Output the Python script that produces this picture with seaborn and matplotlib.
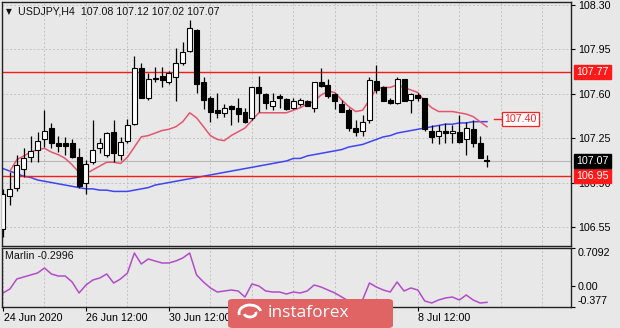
import numpy as np
import pandas as pd
import matplotlib
matplotlib.use("Agg")
import matplotlib.pyplot as plt
import matplotlib.transforms as mtransforms
from matplotlib.patches import FancyBboxPatch, Arc
import seaborn as sns

# ---------------- data ----------------
symbol = "USDJPY,H4"
opens = [106.53, 106.79, 106.86, 107.01, 107.10, 107.16, 107.24, 107.33, 107.21, 107.21,
         107.21, 107.10, 106.90, 107.06, 107.17, 107.12, 107.30, 107.12, 107.23, 107.36,
         107.80, 107.57, 107.72, 107.74, 107.69, 107.73, 107.84, 107.94, 108.10, 107.69,
         107.57, 107.47, 107.45, 107.50, 107.49, 107.46, 107.41, 107.65, 107.60, 107.50,
         107.58, 107.56, 107.49, 107.52, 107.54, 107.49, 107.69, 107.67, 107.60, 107.52,
         107.47, 107.33, 107.31, 107.39, 107.70, 107.65, 107.55, 107.53, 107.72, 107.55,
         107.59, 107.57, 107.31, 107.27, 107.31, 107.29, 107.30, 107.24, 107.32, 107.21,
         107.08]
highs = [106.85, 106.98, 107.12, 107.17, 107.27, 107.30, 107.47, 107.37, 107.27, 107.26,
         107.24, 107.17, 107.08, 107.39, 107.25, 107.30, 107.39, 107.26, 107.40, 107.90,
         107.84, 107.76, 107.81, 107.81, 107.78, 107.96, 108.01, 108.18, 108.11, 107.73,
         107.58, 107.61, 107.52, 107.51, 107.57, 107.49, 107.65, 107.74, 107.61, 107.61,
         107.60, 107.57, 107.57, 107.57, 107.55, 107.69, 107.80, 107.72, 107.61, 107.55,
         107.49, 107.39, 107.43, 107.73, 107.83, 107.66, 107.57, 107.73, 107.72, 107.61,
         107.61, 107.57, 107.35, 107.35, 107.37, 107.35, 107.43, 107.38, 107.39, 107.27,
         107.12]
lows = [106.47, 106.72, 106.83, 106.94, 107.06, 107.06, 107.18, 107.17, 107.14, 107.12,
        107.09, 106.86, 106.81, 107.05, 107.13, 107.10, 107.06, 107.08, 107.21, 107.35,
        107.57, 107.55, 107.69, 107.65, 107.68, 107.54, 107.83, 107.93, 107.61, 107.48,
        107.38, 107.41, 107.42, 107.35, 107.38, 107.37, 107.39, 107.46, 107.48, 107.47,
        107.49, 107.47, 107.48, 107.50, 107.50, 107.46, 107.65, 107.57, 107.48, 107.46,
        107.31, 107.27, 107.27, 107.37, 107.61, 107.54, 107.52, 107.52, 107.54, 107.45,
        107.54, 107.31, 107.21, 107.20, 107.21, 107.21, 107.21, 107.12, 107.18, 107.09,
        107.02]
closes = [106.81, 106.85, 107.04, 107.09, 107.15, 107.23, 107.31, 107.21, 107.19, 107.19,
          107.10, 106.87, 107.05, 107.16, 107.21, 107.29, 107.13, 107.22, 107.35, 107.80,
          107.57, 107.72, 107.72, 107.71, 107.76, 107.84, 107.93, 108.12, 107.68, 107.55,
          107.46, 107.45, 107.49, 107.48, 107.44, 107.38, 107.65, 107.61, 107.53, 107.54,
          107.57, 107.48, 107.54, 107.55, 107.50, 107.69, 107.66, 107.58, 107.54, 107.46,
          107.33, 107.30, 107.38, 107.71, 107.63, 107.54, 107.53, 107.72, 107.54, 107.60,
          107.57, 107.32, 107.26, 107.31, 107.29, 107.31, 107.22, 107.33, 107.21, 107.09,
          107.07]
# short moving average (red), starts at bar 1
red_ma = [106.99, 107.08, 107.11, 107.14, 107.16, 107.17, 107.14, 107.12, 107.09, 107.04,
          106.98, 106.97, 107.00, 107.03, 107.06, 107.06, 107.05, 107.10, 107.18, 107.26,
          107.27, 107.29, 107.31, 107.32, 107.34, 107.38, 107.45, 107.41, 107.34, 107.27,
          107.24, 107.23, 107.27, 107.30, 107.33, 107.39, 107.45, 107.45, 107.45, 107.45,
          107.45, 107.47, 107.49, 107.52, 107.54, 107.59, 107.62, 107.61, 107.55, 107.50,
          107.46, 107.47, 107.55, 107.64, 107.65, 107.65, 107.67, 107.65, 107.63, 107.61,
          107.54, 107.49, 107.46, 107.46, 107.46, 107.45, 107.44, 107.42, 107.38, 107.34]
# long moving average (blue)
blue_ma = [107.01, 106.99, 106.97, 106.95, 106.94, 106.92, 106.91, 106.90, 106.89, 106.88,
           106.87, 106.86, 106.85, 106.85, 106.84, 106.84, 106.83, 106.83, 106.83, 106.84,
           106.85, 106.86, 106.88, 106.89, 106.90, 106.91, 106.92, 106.93, 106.94, 106.95,
           106.96, 106.97, 106.98, 106.99, 107.00, 107.01, 107.02, 107.03, 107.04, 107.05,
           107.06, 107.07, 107.09, 107.09, 107.11, 107.12, 107.13, 107.14, 107.15, 107.16,
           107.18, 107.19, 107.20, 107.22, 107.24, 107.26, 107.27, 107.29, 107.30, 107.31,
           107.32, 107.33, 107.34, 107.35, 107.36, 107.36, 107.37, 107.37, 107.38, 107.38,
           107.38]
marlin = [-0.126, -0.052, 0.134, 0.171, 0.208, 0.245, 0.338, 0.227, 0.189, 0.189,
          0.078, -0.126, 0.022, 0.115, 0.152, 0.227, 0.059, 0.134, 0.245, 0.616,
          0.412, 0.505, 0.468, 0.431, 0.431, 0.468, 0.524, 0.616, 0.208, 0.078,
          -0.033, -0.108, -0.089, -0.071, -0.089, -0.201, 0.041, 0.004, -0.089, -0.108,
          -0.108, -0.145, -0.108, -0.126, -0.089, 0.022, -0.015, -0.071, -0.126, -0.201,
          -0.275, -0.312, -0.256, 0.059, -0.015, -0.071, -0.108, 0.078, -0.089, -0.033,
          -0.071, -0.275, -0.312, -0.256, -0.219, -0.201, -0.256, -0.163, -0.256, -0.312,
          -0.2996]
levels = [107.77, 106.95]
target_level = 107.40
price_ticks = [108.30, 107.95, 107.60, 107.25, 106.90, 106.55]
marlin_ticks = [0.7092, 0.0, -0.377]
marlin_tick_labels = ["0.7092", "0.00", "-0.377"]
date_ticks = [0, 12, 24, 60]
date_labels = ["24 Jun 2020", "26 Jun 12:00", "30 Jun 12:00", "8 Jul 12:00"]
grid_step = 6

# ---------------- figure ----------------
W, H = 620, 328
BG = "#e8e8e8"
FS = 7.7
plt.rcParams["font.family"] = ["Liberation Sans", "DejaVu Sans"]

fig = plt.figure(figsize=(W / 100, H / 100), dpi=100, facecolor=BG)

def fx(px):
    return px / W

def fy(py):
    return 1 - py / H

ax = fig.add_axes([fx(2), fy(246), (571 - 2) / W, (246 - 2) / H], facecolor=BG)
ax2 = fig.add_axes([fx(2), fy(306.5), (571 - 2) / W, 58.5 / H], facecolor=BG)

n = len(opens)
idx = np.arange(n)
o = np.array(opens); h = np.array(highs); l = np.array(lows); c = np.array(closes)

bar_px = 6.914
x_left = (2 - 3) / bar_px
x_right = (571 - 3) / bar_px
for a in (ax, ax2):
    a.set_xlim(x_left, x_right)
ax.set_ylim(106.3995, 108.3237)
ax2.set_ylim(-0.377, 0.7092)

# grid
grid_kw = dict(color="#c2c2c2", ls=(0, (2, 2)), lw=0.7)
ax.set_xticks(np.arange(grid_step, 80, grid_step))
ax.tick_params(axis="x", length=0, labelbottom=False)
ax.grid(True, axis="both", **grid_kw)
ax.set_axisbelow(True)

# moving averages (seaborn)
df_blue = pd.DataFrame({"bar": idx, "ma": blue_ma})
df_red = pd.DataFrame({"bar": np.arange(1, 1 + len(red_ma)), "ma": red_ma})
sns.lineplot(data=df_blue, x="bar", y="ma", ax=ax, color="#3f45f0", lw=1.1, zorder=2)
sns.lineplot(data=df_red, x="bar", y="ma", ax=ax, color="#e4566f", lw=1.1, zorder=2)

# bid line and levels
ax.axhline(closes[-1], color="#b8b8b8", lw=0.8, zorder=1)
for lv in levels:
    ax.axhline(lv, color="#ff1a1a", lw=1.0, zorder=2.5)

# candles
ax.vlines(idx, l, h, color="black", lw=0.9, zorder=3)
up = c >= o
bottom = np.minimum(o, c)
height = np.maximum(np.abs(c - o), 0.006)
ax.bar(idx[up], height[up], bottom=bottom[up], width=0.72, facecolor="white",
       edgecolor="black", lw=0.8, zorder=4)
ax.bar(idx[~up], height[~up], bottom=bottom[~up], width=0.72, facecolor="black",
       edgecolor="black", lw=0.8, zorder=4)

# target label
ax.plot([n, n + 1.1], [target_level, target_level], color="#ff2020", lw=1.0, zorder=5)
ax.text(n + 1.5, target_level, f"{target_level:.2f}", color="#ff2020", fontsize=FS,
        va="center", ha="left", zorder=6,
        bbox=dict(boxstyle="square,pad=0.18", fc="white", ec="#ff2020", lw=0.9))

# right price axis
ax.yaxis.tick_right()
ax.set_yticks(price_ticks)
ax.set_yticklabels([f"{v:.2f}" for v in price_ticks], fontsize=FS)
ax.tick_params(axis="y", length=3, width=0.8, pad=2, colors="black")

trans = mtransforms.blended_transform_factory(ax.transAxes, ax.transData)
lab_x = 1.0 + 5 / 569
for lv in levels:
    ax.text(lab_x, lv, f"{lv:.2f}", transform=trans, color="white", fontsize=FS,
            va="center", ha="left", clip_on=False, zorder=10,
            bbox=dict(boxstyle="square,pad=0.2", fc="#ff1a1a", ec="#ff1a1a"))
ax.text(lab_x, closes[-1], f"{closes[-1]:.2f}", transform=trans, color="white", fontsize=FS,
        va="center", ha="left", clip_on=False, zorder=10,
        bbox=dict(boxstyle="square,pad=0.2", fc="black", ec="black"))

# header
fig.text(fx(5.5), fy(11.5), "\u25BC", fontsize=5.5, family="DejaVu Sans", va="center", ha="left",
         color="#111111")
fig.text(fx(18), fy(11.5),
         f"{symbol}  {opens[-1]:.2f} {highs[-1]:.2f} {lows[-1]:.2f} {closes[-1]:.2f}",
         fontsize=FS, va="center", ha="left", color="#111111")

# ---------------- Marlin sub panel ----------------
df_m = pd.DataFrame({"bar": idx, "v": marlin})
sns.lineplot(data=df_m, x="bar", y="v", ax=ax2, color="#b24cc8", lw=1.1)
ax2.set_xticks(date_ticks)
ax2.set_xticklabels(date_labels, fontsize=FS, ha="left")
ax2.set_xticks(np.arange(grid_step, 80, grid_step), minor=True)
ax2.tick_params(axis="x", which="major", length=3, width=0.8, pad=1.5, colors="black")
ax2.tick_params(axis="x", which="minor", length=0)
ax2.grid(True, axis="x", which="minor", **grid_kw)
ax2.grid(True, axis="x", which="major", **grid_kw)
ax2.set_axisbelow(True)
offset = mtransforms.ScaledTranslation(0.5 / 100, 0, fig.dpi_scale_trans)
for lab in ax2.get_xticklabels():
    lab.set_transform(lab.get_transform() + offset)

ax2.yaxis.tick_right()
ax2.set_yticks(marlin_ticks)
ax2.set_yticklabels(marlin_tick_labels, fontsize=FS)
ax2.tick_params(axis="y", length=3, width=0.8, pad=2, colors="black")
ylabs = ax2.get_yticklabels()
ylabs[0].set_va("top")
ylabs[-1].set_va("bottom")
ax2.text(0.006, 0.86, f"Marlin {marlin[-1]:.4f}", transform=ax2.transAxes, fontsize=FS,
         va="center", ha="left", color="#111111")

for a in (ax, ax2):
    a.set_xlabel("")
    a.set_ylabel("")
    for s in a.spines.values():
        s.set_color("#222222")
        s.set_linewidth(1.0)

# ---------------- watermark ----------------
wm = FancyBboxPatch((fx(228), fy(328)), fx(393) - fx(228), (328 - 299) / H,
                    boxstyle="round,pad=0,rounding_size=0.008", transform=fig.transFigure,
                    fc="#e06464", ec="none", zorder=20)
fig.add_artist(wm)
# simple logo swoosh
for (cx, cy, w_, h_, t1, t2) in [(250, 313, 22, 16, 20, 200), (250, 313, 12, 8, 200, 380)]:
    arc = Arc((fx(cx), fy(cy)), w_ / W, h_ / H, theta1=t1, theta2=t2,
              transform=fig.transFigure, color="white", lw=2.0, zorder=21)
    fig.add_artist(arc)
fig.text(fx(268), fy(313), "instaforex", fontsize=12.5, family="Open Sans", color="white",
         va="center", ha="left", zorder=21)

fig.savefig("out.png", dpi=100, facecolor=BG)
